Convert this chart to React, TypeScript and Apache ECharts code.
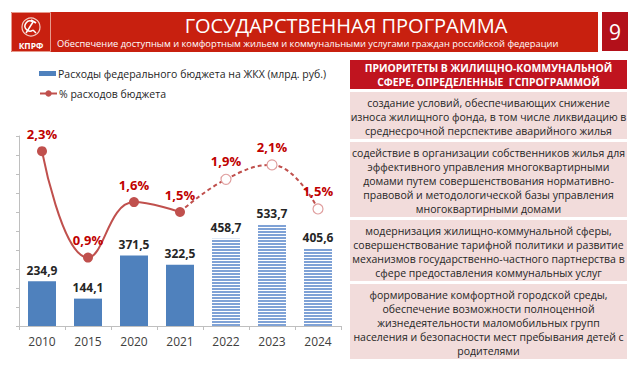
import React, { useEffect, useRef } from 'react';
import * as echarts from 'echarts';

const years = ['2010', '2015', '2020', '2021', '2022', '2023', '2024'];
const spending = [234.9, 144.1, 371.5, 322.5, 458.7, 533.7, 405.6];
const sharePct = [2.3, 0.9, 1.63, 1.5, 1.93, 2.12, 1.54];
const firstPlannedIndex = 4;
const legendBar = 'Расходы федерального бюджета на ЖКХ (млрд. руб.)';
const legendLine = '% расходов бюджета';
const titleText = 'ГОСУДАРСТВЕННАЯ ПРОГРАММА';
const subtitleText = 'Обеспечение доступным и комфортным жильем и коммунальными услугами граждан российской федерации';
const pageNo = '9';
const logoText = 'КПРФ';
const panelHeader = ['ПРИОРИТЕТЫ В ЖИЛИЩНО-КОММУНАЛЬНОЙ', 'СФЕРЕ, ОПРЕДЕЛЕННЫЕ  ГСПРОГРАММОЙ'];
const priorities = [
  ['создание условий, обеспечивающих снижение', 'износа жилищного фонда, в том числе ликвидацию в', 'среднесрочной перспективе аварийного жилья'],
  ['содействие в организации собственников жилья для', 'эффективного управления многоквартирными', 'домами путем совершенствования нормативно-', 'правовой и методологической базы управления', 'многоквартирными домами'],
  ['модернизация жилищно-коммунальной сферы,', 'совершенствование тарифной политики и развитие', 'механизмов государственно-частного партнерства в', 'сфере предоставления коммунальных услуг'],
  ['формирование комфортной городской среды,', 'обеспечение возможности полноценной', 'жизнедеятельности маломобильных групп', 'населения и безопасности мест пребывания детей с', 'родителями'],
];

const FONT = '"Open Sans", "Noto Sans", sans-serif';

export default function App() {
  const ref = useRef<HTMLDivElement>(null);
  useEffect(() => {
    if (!ref.current) return;
    const chart = echarts.init(ref.current, null, { renderer: 'svg' });

    const fmtNum = (v: number) => String(v).replace('.', ',');
    const fmtPct = (v: number) => v.toFixed(1).replace('.', ',') + '%';

    // right panel graphics
    const panelX = 350;
    const panelW = 277;
    const lineH = 14;
    const pad = 5;
    const gap = 3;
    const graphics: any[] = [];
    graphics.push({
      type: 'rect', shape: { x: panelX, y: 60, width: panelW, height: 29 },
      style: { fill: '#c0141f' },
    });
    graphics.push({
      type: 'text', x: panelX + panelW / 2, y: 74.5,
      style: {
        text: panelHeader.join('\n'), fill: '#ffffff', font: `bold 10.4px ${FONT}`,
        align: 'center', verticalAlign: 'middle', lineHeight: 14,
      },
    });
    let yy = 92;
    priorities.forEach((lines) => {
      const h = lines.length * lineH + pad;
      graphics.push({
        type: 'rect', shape: { x: panelX, y: yy, width: panelW, height: h },
        style: { fill: '#f2dcdb' },
      });
      graphics.push({
        type: 'text', x: panelX + panelW / 2, y: yy + h / 2 + 1,
        style: {
          text: lines.join('\n'), fill: '#262626', font: `10.5px ${FONT}`,
          align: 'center', verticalAlign: 'middle', lineHeight: lineH,
        },
      });
      yy += h + gap;
    });

    // header
    graphics.push({ type: 'rect', shape: { x: 11, y: 12, width: 587, height: 40 }, style: { fill: '#c8200f' } });
    graphics.push({ type: 'rect', shape: { x: 11.5, y: 12.5, width: 39, height: 39 }, style: { fill: '#c8200f', stroke: '#e79a8c', lineWidth: 1 } });
    graphics.push({ type: 'circle', shape: { cx: 31, cy: 27, r: 9 }, style: { fill: 'none', stroke: '#f4d0c8', lineWidth: 1.2 } });
    graphics.push({ type: 'arc', shape: { cx: 30, cy: 26, r: 5, startAngle: -Math.PI / 3, endAngle: Math.PI * 0.3, clockwise: false }, style: { stroke: '#ffffff', lineWidth: 1.5, fill: 'none' } });
    graphics.push({ type: 'line', shape: { x1: 33, y1: 30, x2: 36, y2: 33 }, style: { stroke: '#ffffff', lineWidth: 1.5 } });
    graphics.push({ type: 'line', shape: { x1: 26, y1: 33, x2: 33, y2: 22 }, style: { stroke: '#ffffff', lineWidth: 1.5 } });
    graphics.push({ type: 'line', shape: { x1: 31, y1: 20, x2: 36, y2: 23 }, style: { stroke: '#ffffff', lineWidth: 2 } });
    graphics.push({
      type: 'text', x: 31, y: 45.5,
      style: { text: logoText, fill: '#ffffff', font: `bold 8.5px ${FONT}`, align: 'center', verticalAlign: 'middle' },
    });
    graphics.push({
      type: 'text', x: 346, y: 25,
      style: { text: titleText, fill: '#ffffff', font: `20px ${FONT}`, align: 'center', verticalAlign: 'middle' },
    });
    graphics.push({
      type: 'text', x: 57, y: 43,
      style: { text: subtitleText, fill: '#ffffff', font: `9.3px ${FONT}`, align: 'left', verticalAlign: 'middle' },
    });
    graphics.push({ type: 'rect', shape: { x: 602, y: 12, width: 26, height: 39 }, style: { fill: '#b3101a' } });
    graphics.push({
      type: 'text', x: 615, y: 32,
      style: { text: pageNo, fill: '#ffffff', font: `21px ${FONT}`, align: 'center', verticalAlign: 'middle' },
    });

    const barData = spending.map((v, i) =>
      i >= firstPlannedIndex
        ? {
            value: v,
            itemStyle: {
              color: '#ffffff',
              decal: {
                symbol: 'rect', symbolSize: 1, color: '#7fa2d6',
                dashArrayX: [1, 0], dashArrayY: [2, 1], rotation: 0,
              },
            },
          }
        : { value: v }
    );
    const actualLine = sharePct.map((v, i) => (i < firstPlannedIndex ? v : null));
    const plannedLine = sharePct.map((v, i) =>
      i < firstPlannedIndex - 1 ? null : i === firstPlannedIndex - 1 ? { value: v, symbol: 'none', label: { show: false } } : v
    );

    chart.setOption({
      animation: false,
      textStyle: { fontFamily: FONT },
      graphic: graphics,
      legend: [
        {
          data: [{ name: legendBar, icon: 'rect' }], left: 34, top: 63, itemWidth: 17, itemHeight: 5, itemGap: 2,
          textStyle: { fontSize: 10.5, color: '#262626', fontFamily: FONT, padding: [0, 0, 0, -3] },
        },
        {
          data: [{ name: legendLine }], left: 34, top: 83, itemWidth: 17, itemHeight: 8,
          textStyle: { fontSize: 10.5, color: '#262626', fontFamily: FONT, padding: [0, 0, 0, -3] },
        },
      ],
      grid: { left: 19, right: 297, top: 136, bottom: 43, containLabel: false },
      xAxis: {
        type: 'category', data: years,
        axisLine: { lineStyle: { color: '#bfbfbf' } },
        axisTick: { show: true, length: 4, lineStyle: { color: '#bfbfbf' } },
        axisLabel: { color: '#404040', fontSize: 12, margin: 9, fontFamily: FONT },
      },
      yAxis: [
        {
          type: 'value', min: 0, max: 1000, interval: 100,
          axisLine: { show: true, lineStyle: { color: '#bfbfbf' } },
          axisTick: { show: true, length: 3, lineStyle: { color: '#bfbfbf' } },
          axisLabel: { show: false }, splitLine: { show: false },
        },
        { type: 'value', min: 0, max: 2.5, show: false, splitLine: { show: false } },
      ],
      series: [
        {
          name: legendBar, type: 'bar', data: barData, barWidth: 28,
          itemStyle: { color: '#4f81bd' },
          label: {
            show: true, position: 'top', distance: 5, color: '#262626', fontWeight: 'bold', fontSize: 12,
            fontFamily: FONT, formatter: (p: any) => fmtNum(p.value),
          },
        },
        {
          name: legendLine, type: 'line', yAxisIndex: 1, data: actualLine, smooth: 0.45,
          symbol: 'circle', symbolSize: 10, z: 5,
          itemStyle: { color: '#c0504d' }, lineStyle: { color: '#c0504d', width: 2 },
          label: {
            show: true, position: 'top', distance: 6, color: '#c00000', fontWeight: 'bold', fontSize: 13,
            fontFamily: FONT, formatter: (p: any) => fmtPct(p.value),
          },
        },
        {
          name: 'plan', type: 'line', yAxisIndex: 1, data: plannedLine, smooth: 0.45,
          symbol: 'circle', symbolSize: 10, z: 4,
          itemStyle: { color: '#ffffff', borderColor: '#e0a0a0', borderWidth: 1.2 },
          lineStyle: { color: '#c0504d', width: 2, type: [4, 3] },
          label: {
            show: true, position: 'top', distance: 6, color: '#c00000', fontWeight: 'bold', fontSize: 13,
            fontFamily: FONT, formatter: (p: any) => fmtPct(p.value),
          },
        },
      ],
    });
    return () => chart.dispose();
  }, []);
  return <div ref={ref} style={{ position: 'fixed', left: 0, top: 0, width: 638, height: 369, background: '#ffffff' }} />;
}
